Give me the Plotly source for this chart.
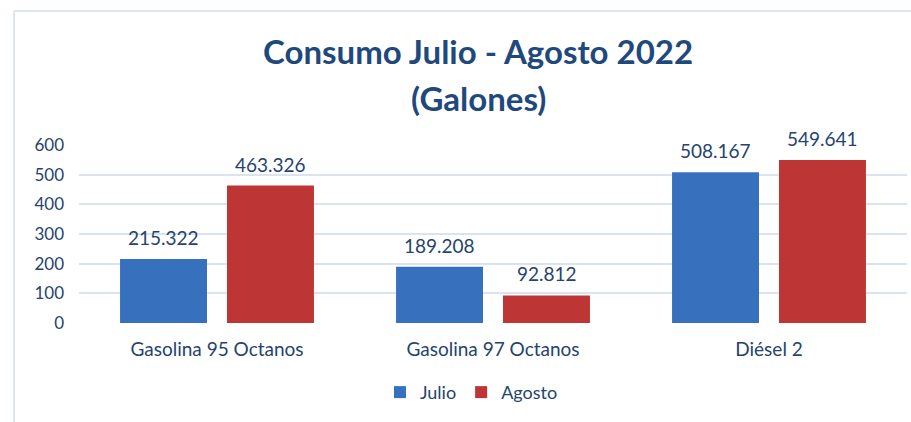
import plotly.graph_objects as go

categories = ["Gasolina 95 Octanos", "Gasolina 97 Octanos", "Diésel 2"]
julio = [215.322, 189.208, 508.167]
agosto = [463.326, 92.812, 549.641]
series_names = ["Julio", "Agosto"]
y_ticks = [0, 100, 200, 300, 400, 500, 600]

FONT = "Lato"
TXT = "#25436f"
colors = ["#3771bd", "#bd3535"]

fig = go.Figure()
for name, vals, col in zip(series_names, [julio, agosto], colors):
    fig.add_trace(go.Bar(
        name=name, x=categories, y=vals,
        marker=dict(color=col, line=dict(width=0)),
    ))

# data labels
slot_px = 107
for i, vals in enumerate([julio, agosto]):
    shift = (-0.5 if i == 0 else 0.5) * slot_px
    for c, v in zip(categories, vals):
        fig.add_annotation(x=c, y=v, text=f"{v:.3f}", showarrow=False,
                           xanchor="center", yanchor="bottom", xshift=shift, yshift=8,
                           font=dict(family=FONT, size=19, color=TXT))

# title lines
fig.add_annotation(xref="paper", yref="paper", x=0.482, y=(323 - 51) / 178,
                   text="<b>Consumo Julio - Agosto 2022</b>", showarrow=False,
                   xanchor="center", yanchor="middle",
                   font=dict(family=FONT, size=33, color="#1f497d"))
fig.add_annotation(xref="paper", yref="paper", x=0.482, y=(323 - 98) / 178,
                   text="<b>(Galones)</b>", showarrow=False,
                   xanchor="center", yanchor="middle",
                   font=dict(family=FONT, size=33, color="#1f497d"))

border = "#dce6f4"
fig.add_shape(type="line", xref="paper", yref="paper",
              x0=(14 - 79) / 828, x1=1.01, y0=(323 - 11) / 178, y1=(323 - 11) / 178,
              line=dict(color=border, width=2))
fig.add_shape(type="line", xref="paper", yref="paper",
              x0=(14 - 79) / 828, x1=(14 - 79) / 828, y0=(323 - 11) / 178, y1=-0.6,
              line=dict(color=border, width=2))

fig.update_layout(
    width=911, height=422,
    margin=dict(l=79, r=4, t=145, b=99),
    paper_bgcolor="white", plot_bgcolor="white",
    barmode="group", bargap=0.225, bargroupgap=0.187,
    showlegend=True,
    legend=dict(orientation="h", x=0.474, xanchor="center", y=-0.39, yanchor="middle",
                font=dict(family=FONT, size=18, color=TXT), itemwidth=30,
                traceorder="normal"),
    font=dict(family=FONT, size=16, color=TXT),
)
fig.update_yaxes(range=[0, 600], tickvals=y_ticks, showgrid=True, gridcolor="#d9e3f1",
                 gridwidth=1.5, zeroline=False, showline=False, ticklabelstandoff=14,
                 tickfont=dict(family=FONT, size=17, color=TXT), fixedrange=True)
fig.update_xaxes(showgrid=False, showline=False, ticklabelstandoff=13,
                 tickfont=dict(family=FONT, size=19, color=TXT))

fig.write_html("out.html", config={"displayModeBar": False},
               post_script="document.body.style.margin='0';")
